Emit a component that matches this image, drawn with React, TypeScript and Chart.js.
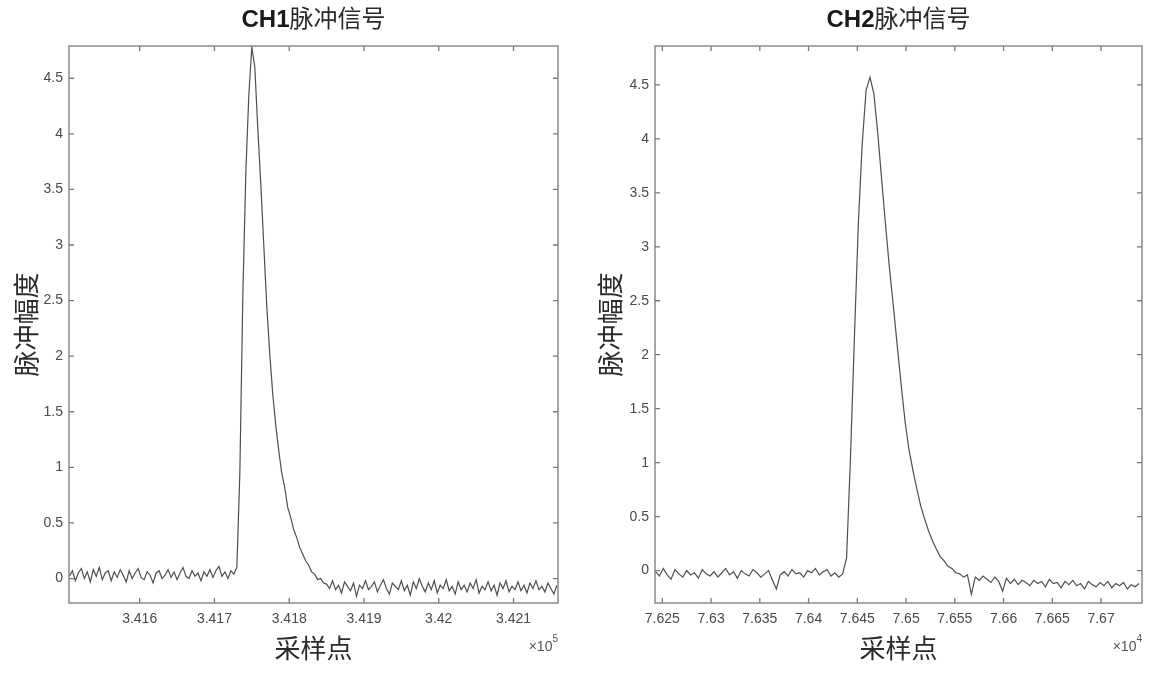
import React, { useEffect, useRef } from "react";
import { Chart, registerables } from "chart.js";

Chart.register(...registerables);

// ---------- shared text ----------
const titleSuffix = "脉冲信号";
const xAxisTitle = "采样点";
const yAxisTitle = "脉冲幅度";

// ---------- y ticks (both panels) ----------
const yTickValues = [0, 0.5, 1, 1.5, 2, 2.5, 3, 3.5, 4, 4.5];
const yTickLabels = ["0", "0.5", "1", "1.5", "2", "2.5", "3", "3.5", "4", "4.5"];

// ---------- CH1 ----------
const ch1Name = "CH1";
const ch1StartSample = 341506;
const ch1SampleStep = 4;
const ch1Amplitude = [
  0.02, 0.07, -0.02, 0.05, 0.09, 0.0, 0.06, -0.03,
  0.08, 0.02, 0.1, -0.01, 0.05, 0.07, -0.02, 0.06,
  0.01, 0.08, 0.03, -0.03, 0.07, 0.0, 0.05, 0.09,
  0.01, -0.01, 0.06, 0.03, -0.04, 0.05, 0.07, 0.0,
  0.03, 0.08, 0.01, 0.06, -0.01, 0.05, 0.1, 0.02,
  0.0, 0.07, 0.02, 0.05, -0.02, 0.06, 0.02, 0.08,
  0.01, 0.07, 0.11, 0.02, 0.06, 0.0, 0.07, 0.04,
  0.1, 0.95, 2.55, 3.65, 4.35, 4.78, 4.6, 4.05,
  3.55, 3.0, 2.45, 2.02, 1.66, 1.38, 1.15, 0.95,
  0.82, 0.64, 0.55, 0.44, 0.37, 0.28, 0.22, 0.16,
  0.12, 0.06, 0.04, -0.01, 0.0, -0.04,
  -0.05, -0.09, -0.02, -0.1, -0.06, -0.13, -0.03, -0.07,
  -0.11, -0.04, -0.16, -0.06, -0.09, -0.02, -0.1, -0.07,
  -0.03, -0.12, -0.06, -0.01, -0.09, -0.14, -0.04, -0.07,
  -0.1, -0.02, -0.11, -0.06, -0.15, -0.03, -0.09, 0.0,
  -0.07, -0.12, -0.04, -0.1, -0.02, -0.13, -0.06, -0.09,
  -0.01, -0.11, -0.07, -0.14, -0.03, -0.1, -0.06, -0.12,
  -0.04, -0.09, -0.01, -0.13, -0.07, -0.1, -0.03, -0.11,
  -0.06, -0.15, -0.04, -0.09, -0.02, -0.12, -0.07, -0.1,
  -0.03, -0.11, -0.06, -0.13, -0.04, -0.09, -0.02, -0.1,
  -0.07, -0.12, -0.04, -0.09, -0.14, -0.06,
];
const ch1XRange = [341505.5, 342159.5];
const ch1YRange = [-0.22, 4.79];
const ch1XTickValues = [341600, 341700, 341800, 341900, 342000, 342100];
const ch1XTickLabels = ["3.416", "3.417", "3.418", "3.419", "3.42", "3.421"];
const ch1Exponent = "5";

// ---------- CH2 ----------
const ch2Name = "CH2";
const ch2StartSample = 76243;
const ch2SampleStep = 4;
const ch2Amplitude = [
  -0.01, -0.05, 0.02, -0.04, -0.08, 0.01, -0.03, -0.06,
  0.0, -0.04, -0.02, -0.07, 0.01, -0.03, -0.05, -0.01,
  -0.06, -0.02, 0.02, -0.04, -0.01, -0.07, 0.0, -0.03,
  -0.05, 0.01, -0.02, -0.06, -0.03, 0.0, -0.09, -0.17,
  -0.04, -0.01, -0.05, 0.01, -0.03, -0.02, -0.06, 0.0,
  -0.02, 0.02, -0.04, -0.01, 0.01, -0.05, -0.02, -0.06,
  -0.03,
  0.12, 1.05, 2.15, 3.2, 3.95, 4.45, 4.57, 4.42,
  4.05, 3.62, 3.2, 2.8, 2.45, 2.08, 1.72, 1.38,
  1.12, 0.93, 0.76, 0.6, 0.48, 0.37, 0.28, 0.2,
  0.13, 0.09, 0.04, 0.02, -0.02, -0.03, -0.06,
  -0.04, -0.22, -0.06, -0.09, -0.05, -0.08, -0.11, -0.06,
  -0.1, -0.19, -0.07, -0.12, -0.08, -0.13, -0.09, -0.11,
  -0.14, -0.09, -0.12, -0.1, -0.15, -0.08, -0.12, -0.11,
  -0.16, -0.1, -0.13, -0.09, -0.14, -0.12, -0.17, -0.1,
  -0.13, -0.15, -0.11, -0.14, -0.1, -0.16, -0.12, -0.14,
  -0.11, -0.17, -0.13, -0.15, -0.12,
];
const ch2XRange = [76242.5, 76742];
const ch2YRange = [-0.3, 4.86];
const ch2XTickValues = [76250, 76300, 76350, 76400, 76450, 76500, 76550, 76600, 76650, 76700];
const ch2XTickLabels = ["7.625", "7.63", "7.635", "7.64", "7.645", "7.65", "7.655", "7.66", "7.665", "7.67"];
const ch2Exponent = "4";

const LATIN = "'Liberation Sans', Arial, Helvetica, sans-serif";
const CJK = "'Noto Sans CJK SC', 'Noto Sans', sans-serif";

type PanelProps = {
  left: number;
  name: string;
  start: number;
  step: number;
  values: number[];
  xRange: number[];
  yRange: number[];
  xTicks: number[];
  xLabels: string[];
  exponent: string;
  axisWidth: number;
  padRight: number;
  yTitlePad: number;
};

function Panel(p: PanelProps) {
  const ref = useRef<HTMLCanvasElement | null>(null);

  useEffect(() => {
    const canvas = ref.current;
    if (!canvas) return;
    const points = p.values.map((y, i) => ({ x: p.start + i * p.step, y }));

    const decor = {
      id: "matlabDecor",
      afterDraw(chart: any) {
        const { ctx, chartArea: a, scales } = chart;
        const xs = scales.x;
        const ys = scales.y;
        ctx.save();
        ctx.strokeStyle = "#7a7a7a";
        ctx.lineWidth = 1.3;
        ctx.beginPath();
        for (const v of p.xTicks) {
          const px = xs.getPixelForValue(v);
          ctx.moveTo(px, a.bottom);
          ctx.lineTo(px, a.bottom - 5);
          ctx.moveTo(px, a.top);
          ctx.lineTo(px, a.top + 5);
        }
        for (const v of yTickValues) {
          const py = ys.getPixelForValue(v);
          ctx.moveTo(a.left, py);
          ctx.lineTo(a.left + 5, py);
          ctx.moveTo(a.right, py);
          ctx.lineTo(a.right - 5, py);
        }
        ctx.stroke();
        ctx.strokeRect(a.left, a.top, a.right - a.left, a.bottom - a.top);

        // title: bold latin + regular CJK
        const cx = (a.left + a.right) / 2;
        const fBold = `bold 24px ${LATIN}`;
        const fCjk = `24px ${CJK}`;
        ctx.font = fBold;
        const w1 = ctx.measureText(p.name).width;
        ctx.font = fCjk;
        const w2 = ctx.measureText(titleSuffix).width;
        const x0 = cx - (w1 + w2) / 2;
        ctx.textAlign = "left";
        ctx.textBaseline = "alphabetic";
        ctx.fillStyle = "#1a1a1a";
        ctx.font = fBold;
        ctx.fillText(p.name, x0, 27);
        ctx.fillStyle = "#2a2a2a";
        ctx.font = fCjk;
        ctx.fillText(titleSuffix, x0 + w1, 27);

        // exponent  x10^n
        ctx.fillStyle = "#555";
        ctx.font = `10px ${LATIN}`;
        const ws = ctx.measureText(p.exponent).width;
        ctx.font = `14px ${LATIN}`;
        const wm = ctx.measureText("×10").width;
        ctx.fillText("×10", a.right - ws - wm, 651);
        ctx.font = `10px ${LATIN}`;
        ctx.fillText(p.exponent, a.right - ws, 642);
        ctx.restore();
      },
    };

    const labelFor = (v: number) => {
      const i = p.xTicks.indexOf(v);
      return i >= 0 ? p.xLabels[i] : "";
    };
    const yLabelFor = (v: number) => {
      const i = yTickValues.indexOf(v);
      return i >= 0 ? yTickLabels[i] : "";
    };

    const chart = new Chart(canvas, {
      type: "line",
      data: {
        datasets: [
          {
            data: points,
            borderColor: "#4f4f4f",
            borderWidth: 1.2,
            pointRadius: 0,
            tension: 0,
            fill: false,
          },
        ],
      },
      options: {
        animation: false,
        responsive: false,
        maintainAspectRatio: false,
        events: [],
        layout: { padding: { left: 0, right: p.padRight, top: 46, bottom: 0 } },
        plugins: {
          legend: { display: false },
          tooltip: { enabled: false },
          title: { display: false },
        },
        scales: {
          x: {
            type: "linear",
            min: p.xRange[0],
            max: p.xRange[1],
            afterBuildTicks: (s: any) => {
              s.ticks = p.xTicks.map((v) => ({ value: v }));
            },
            afterFit: (s: any) => {
              s.height = 70;
            },
            grid: { display: false, drawTicks: false },
            border: { display: false },
            ticks: {
              autoSkip: false,
              maxRotation: 0,
              padding: 8,
              color: "#4a4a4a",
              font: { family: LATIN, size: 14 },
              callback: (v: any) => labelFor(Number(v)),
            },
            title: {
              display: true,
              text: xAxisTitle,
              color: "#2b2b2b",
              font: { family: CJK, size: 26, lineHeight: 1.2 },
              padding: 9.4,
            },
          },
          y: {
            type: "linear",
            min: p.yRange[0],
            max: p.yRange[1],
            afterBuildTicks: (s: any) => {
              s.ticks = yTickValues.map((v) => ({ value: v }));
            },
            afterFit: (s: any) => {
              s.width = p.axisWidth;
            },
            grid: { display: false, drawTicks: false },
            border: { display: false },
            ticks: {
              autoSkip: false,
              padding: 6,
              color: "#4a4a4a",
              font: { family: LATIN, size: 14 },
              callback: (v: any) => yLabelFor(Number(v)),
            },
            title: {
              display: true,
              text: yAxisTitle,
              color: "#2b2b2b",
              font: { family: CJK, size: 26, lineHeight: 1.2 },
              padding: p.yTitlePad,
            },
          },
        },
      },
      plugins: [decor],
    } as any);

    return () => {
      chart.destroy();
    };
  }, []);

  return (
    <canvas
      ref={ref}
      width={576}
      height={673}
      style={{ position: "absolute", left: p.left, top: 0, width: 576, height: 673, display: "block" }}
    />
  );
}

export default function App() {
  return (
    <div
      style={{
        position: "fixed",
        left: 0,
        top: 0,
        width: 1152,
        height: 673,
        background: "#ffffff",
        overflow: "hidden",
      }}
    >
      <Panel
        left={0}
        name={ch1Name}
        start={ch1StartSample}
        step={ch1SampleStep}
        values={ch1Amplitude}
        xRange={ch1XRange}
        yRange={ch1YRange}
        xTicks={ch1XTickValues}
        xLabels={ch1XTickLabels}
        exponent={ch1Exponent}
        axisWidth={69}
        padRight={18}
        yTitlePad={11}
      />
      <Panel
        left={576}
        name={ch2Name}
        start={ch2StartSample}
        step={ch2SampleStep}
        values={ch2Amplitude}
        xRange={ch2XRange}
        yRange={ch2YRange}
        xTicks={ch2XTickValues}
        xLabels={ch2XTickLabels}
        exponent={ch2Exponent}
        axisWidth={79}
        padRight={10}
        yTitlePad={19}
      />
    </div>
  );
}
